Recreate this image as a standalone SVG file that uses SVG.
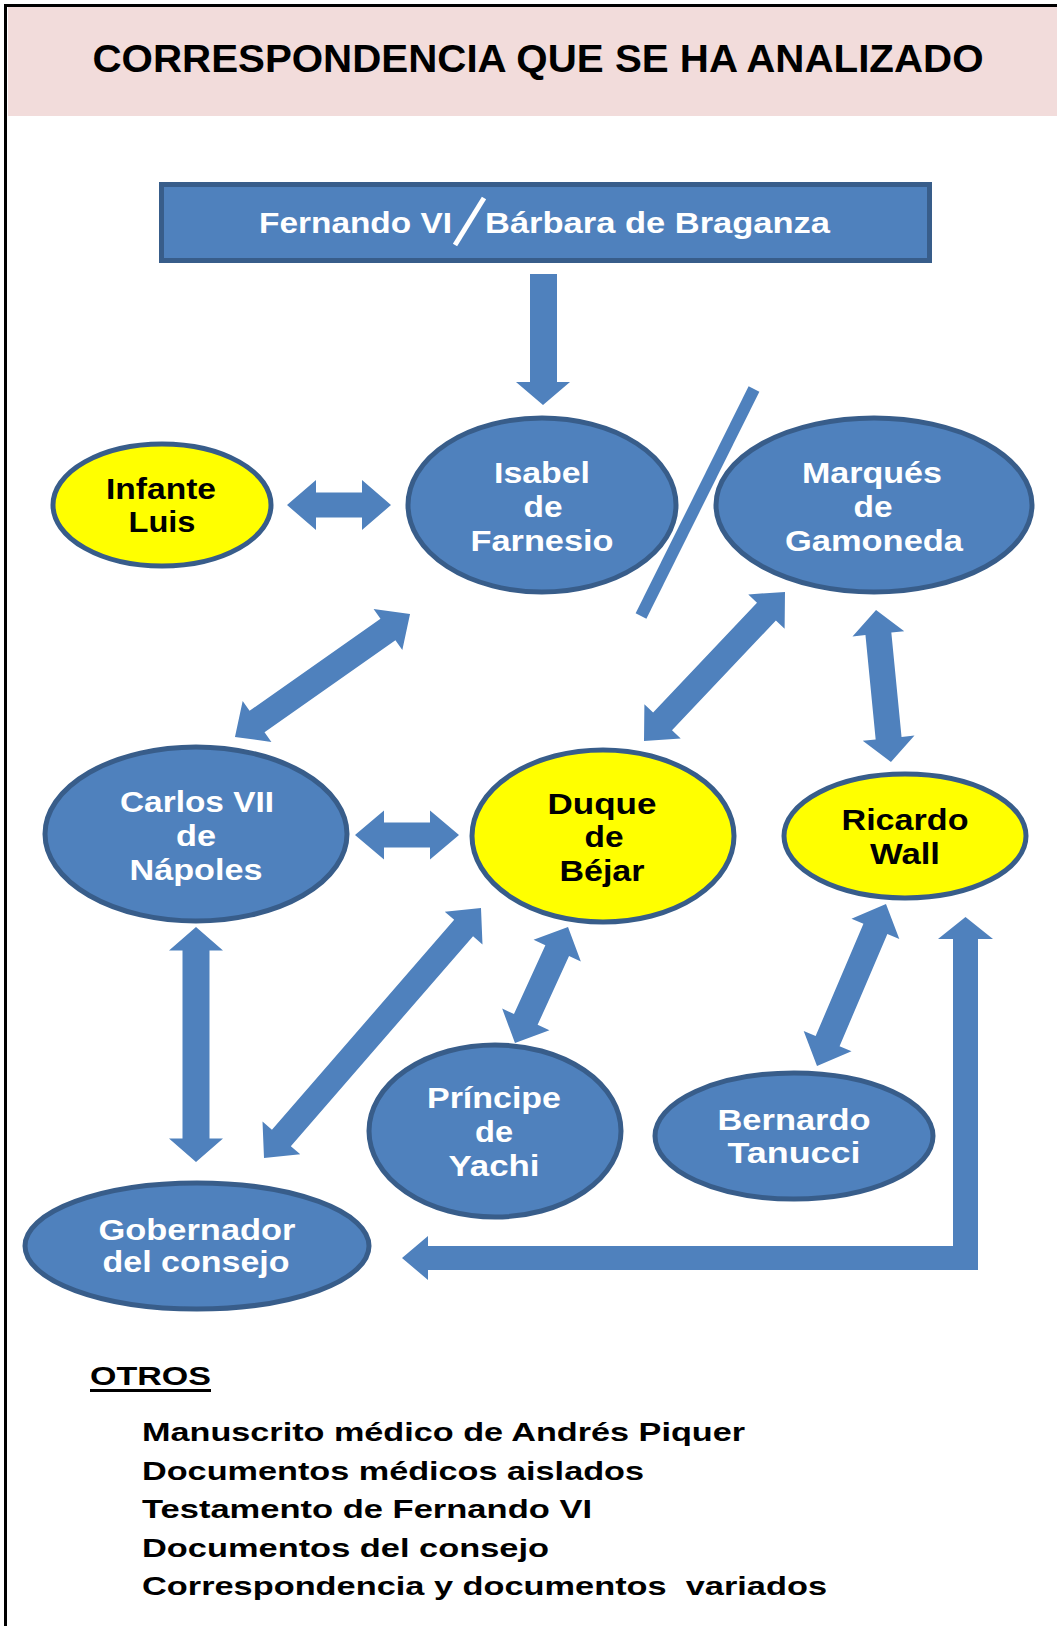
<svg xmlns="http://www.w3.org/2000/svg" width="1057" height="1626" viewBox="0 0 1057 1626">
<style>
.t{font-family:"Liberation Sans",Arial,sans-serif;font-weight:bold}
.nt{font-size:29px;text-anchor:middle}
.w{fill:#ffffff}
.k{fill:#000000}
.blue{fill:#4F81BD;stroke:#385D8A;stroke-width:5}
.yel{fill:#FFFF00;stroke:#385D8A;stroke-width:5}
.arr{fill:#4F81BD}
.lst{font-size:26px;fill:#000}
</style>
<rect x="0" y="0" width="1057" height="1626" fill="#ffffff"/>
<rect x="8" y="7" width="1049" height="109" fill="#F2DCDB"/>
<rect x="5.5" y="5.5" width="1060" height="1630" fill="none" stroke="#000" stroke-width="3"/>
<text class="t" x="538" y="72" font-size="38" text-anchor="middle" textLength="891" lengthAdjust="spacingAndGlyphs" fill="#000">CORRESPONDENCIA QUE SE HA ANALIZADO</text>

<g id="connectors">
  <path class="arr" d="M530 274 L557 274 L557 382 L570 382 L543 405 L516 382 L530 382 Z"/>
  <path class="arr" transform="translate(339 505)" d="M-52 0 L-23 -25 L-23 -12.5 L23 -12.5 L23 -25 L52 0 L23 25 L23 12.5 L-23 12.5 L-23 25 Z"/>
  <path class="arr" transform="translate(322.5 675.5) rotate(-35.1)" d="M-107 0 L-80 -25 L-80 -13 L80 -13 L80 -25 L107 0 L80 25 L80 13 L-80 13 L-80 25 Z"/>
  <path class="arr" transform="translate(714.5 666.5) rotate(-46.6)" d="M-102.6 0 L-75.6 -25 L-75.6 -13 L75.6 -13 L75.6 -25 L102.6 0 L75.6 25 L75.6 13 L-75.6 13 L-75.6 25 Z"/>
  <path class="arr" transform="translate(883.5 686) rotate(-95.6)" d="M-76.4 0 L-52.4 -26 L-52.4 -13 L52.4 -13 L52.4 -26 L76.4 0 L52.4 26 L52.4 13 L-52.4 13 L-52.4 26 Z"/>
  <path class="arr" transform="translate(407 835)" d="M-52 0 L-23 -24.5 L-23 -12.5 L23 -12.5 L23 -24.5 L52 0 L23 24.5 L23 12.5 L-23 12.5 L-23 24.5 Z"/>
  <path class="arr" transform="translate(196 1044.5) rotate(90)" d="M-117.5 0 L-94 -27 L-94 -13.5 L94 -13.5 L94 -27 L117.5 0 L94 27 L94 13.5 L-94 13.5 L-94 27 Z"/>
  <path class="arr" transform="translate(372.5 1033) rotate(-49.04)" d="M-165.5 0 L-139 -25 L-139 -12.5 L139 -12.5 L139 -25 L165.5 0 L139 25 L139 12.5 L-139 12.5 L-139 25 Z"/>
  <path class="arr" transform="translate(541.5 985) rotate(-65.45)" d="M-63.8 0 L-37.8 -26 L-37.8 -13 L37.8 -13 L37.8 -26 L63.8 0 L37.8 26 L37.8 13 L-37.8 13 L-37.8 26 Z"/>
  <path class="arr" transform="translate(851.5 985) rotate(-66.93)" d="M-88 0 L-61 -26 L-61 -13 L61 -13 L61 -26 L88 0 L61 26 L61 13 L-61 13 L-61 26 Z"/>
  <path class="arr" d="M402 1258 L428 1236 L428 1246 L953 1246 L953 939 L938 939 L965.5 917 L993 939 L978 939 L978 1270 L428 1270 L428 1280 Z"/>
  <line x1="754" y1="389" x2="641" y2="616" stroke="#4F81BD" stroke-width="12"/>
</g>

<g id="node-fernando">
  <rect class="blue" x="161.5" y="184.5" width="768" height="76"/>
  <text class="t w" x="259" y="233" font-size="29" textLength="193" lengthAdjust="spacingAndGlyphs">Fernando VI</text>
  <line x1="455" y1="245" x2="484" y2="198" stroke="#ffffff" stroke-width="5"/>
  <text class="t w" x="485" y="233" font-size="29" textLength="345" lengthAdjust="spacingAndGlyphs">Bárbara de Braganza</text>
</g>

<g id="node-infante">
  <ellipse class="yel" cx="162" cy="505" rx="109" ry="61"/>
  <text class="t nt k" x="161" y="499" textLength="110" lengthAdjust="spacingAndGlyphs">Infante</text>
  <text class="t nt k" x="162" y="532" textLength="67" lengthAdjust="spacingAndGlyphs">Luis</text>
</g>

<g id="node-isabel">
  <ellipse class="blue" cx="542" cy="505" rx="134" ry="87"/>
  <text class="t nt w" x="542" y="483" textLength="96" lengthAdjust="spacingAndGlyphs">Isabel</text>
  <text class="t nt w" x="543" y="517" textLength="39" lengthAdjust="spacingAndGlyphs">de</text>
  <text class="t nt w" x="542" y="551" textLength="143" lengthAdjust="spacingAndGlyphs">Farnesio</text>
</g>

<g id="node-marques">
  <ellipse class="blue" cx="874" cy="505" rx="158" ry="87"/>
  <text class="t nt w" x="872" y="483" textLength="140" lengthAdjust="spacingAndGlyphs">Marqués</text>
  <text class="t nt w" x="873" y="517" textLength="39" lengthAdjust="spacingAndGlyphs">de</text>
  <text class="t nt w" x="874" y="551" textLength="178" lengthAdjust="spacingAndGlyphs">Gamoneda</text>
</g>

<g id="node-carlos">
  <ellipse class="blue" cx="196" cy="834" rx="151" ry="87"/>
  <text class="t nt w" x="197" y="812" textLength="154" lengthAdjust="spacingAndGlyphs">Carlos VII</text>
  <text class="t nt w" x="196" y="846" textLength="40" lengthAdjust="spacingAndGlyphs">de</text>
  <text class="t nt w" x="196" y="880" textLength="133" lengthAdjust="spacingAndGlyphs">Nápoles</text>
</g>

<g id="node-duque">
  <ellipse class="yel" cx="603" cy="836" rx="131" ry="86"/>
  <text class="t nt k" x="602" y="814" textLength="109" lengthAdjust="spacingAndGlyphs">Duque</text>
  <text class="t nt k" x="604" y="847" textLength="39" lengthAdjust="spacingAndGlyphs">de</text>
  <text class="t nt k" x="602" y="881" textLength="85" lengthAdjust="spacingAndGlyphs">Béjar</text>
</g>

<g id="node-ricardo">
  <ellipse class="yel" cx="905" cy="836" rx="121" ry="62"/>
  <text class="t nt k" x="905" y="830" textLength="127" lengthAdjust="spacingAndGlyphs">Ricardo</text>
  <text class="t nt k" x="905" y="864" textLength="70" lengthAdjust="spacingAndGlyphs">Wall</text>
</g>

<g id="node-principe">
  <ellipse class="blue" cx="495" cy="1131" rx="126" ry="86"/>
  <text class="t nt w" x="494" y="1108" textLength="134" lengthAdjust="spacingAndGlyphs">Príncipe</text>
  <text class="t nt w" x="494" y="1142" textLength="38" lengthAdjust="spacingAndGlyphs">de</text>
  <text class="t nt w" x="494" y="1176" textLength="91" lengthAdjust="spacingAndGlyphs">Yachi</text>
</g>

<g id="node-bernardo">
  <ellipse class="blue" cx="794" cy="1136" rx="139" ry="63"/>
  <text class="t nt w" x="794" y="1130" textLength="153" lengthAdjust="spacingAndGlyphs">Bernardo</text>
  <text class="t nt w" x="794" y="1163" textLength="133" lengthAdjust="spacingAndGlyphs">Tanucci</text>
</g>

<g id="node-gobernador">
  <ellipse class="blue" cx="197" cy="1246" rx="172" ry="63"/>
  <text class="t nt w" x="197" y="1240" textLength="197" lengthAdjust="spacingAndGlyphs">Gobernador</text>
  <text class="t nt w" x="196" y="1272" textLength="187" lengthAdjust="spacingAndGlyphs">del consejo</text>
</g>

<g id="otros">
  <text class="t lst" x="90" y="1385" textLength="121" lengthAdjust="spacingAndGlyphs">OTROS</text>
  <rect x="90" y="1389" width="121" height="3" fill="#000"/>
  <text class="t lst" x="142" y="1441" textLength="603" lengthAdjust="spacingAndGlyphs">Manuscrito médico de Andrés Piquer</text>
  <text class="t lst" x="142" y="1480" textLength="502" lengthAdjust="spacingAndGlyphs">Documentos médicos aislados</text>
  <text class="t lst" x="142" y="1518" textLength="450" lengthAdjust="spacingAndGlyphs">Testamento de Fernando VI</text>
  <text class="t lst" x="142" y="1557" textLength="407" lengthAdjust="spacingAndGlyphs">Documentos del consejo</text>
  <text class="t lst" x="142" y="1595" textLength="685" lengthAdjust="spacingAndGlyphs" style="white-space:pre">Correspondencia y documentos  variados</text>
</g>
</svg>
